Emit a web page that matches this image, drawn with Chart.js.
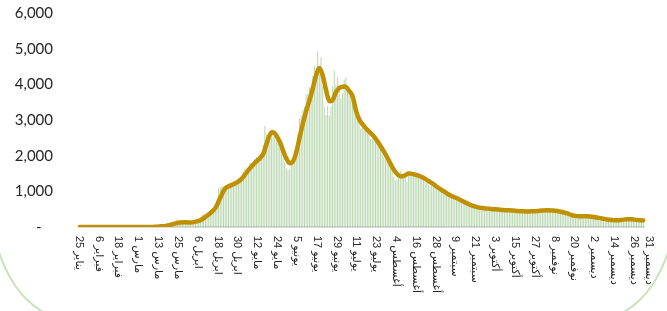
<!DOCTYPE html>
<html lang="ar">
<head>
<meta charset="utf-8">
<script src="https://cdn.jsdelivr.net/npm/chart.js@4.4.1/dist/chart.umd.min.js"></script>
<style>
  html, body { margin: 0; padding: 0; background: #ffffff; overflow: hidden; }
  #wrap { position: relative; width: 667px; height: 311px; overflow: hidden; background: #fff; }
  #frame { position: absolute; left: -10px; top: -100px; width: 687px; height: 420px;
           border: 2px solid #C9E2BA; border-radius: 80px / 120px; box-sizing: border-box; pointer-events: none; }
  canvas { position: absolute; left: 0; top: 0; }
</style>
</head>
<body>
<div id="wrap">
  <div id="frame"></div>
  <canvas id="c" width="667" height="311"></canvas>
</div>
<script>
// ---- data (daily new cases, 25 Jan 2020 .. 31 Dec 2020) ----
const startDate = [2020, 0, 25];

const casesJanFeb = new Array(36).fill(0);
const casesMar = [0,1,0,0,4,0,0,6,4,5,1,24,17,24,17,15,38,38,36,70,119,119,51,205,133,112,92,99,96,154,110];
const casesApr = [157,165,140,140,206,138,190,327,355,364,382,429,472,435,493,518,762,1088,1122,1147,1132,1141,1158,1172,1197,1223,1289,1266,1325,1351];
const casesMay = [1344,1362,1552,1645,1595,1687,1793,1701,1701,1912,1966,1911,1905,2039,2307,2840,2593,2509,2691,2509,2532,2642,2442,2399,2235,2235,1931,1815,1644,1581,1618];
const casesJun = [1881,1869,1975,2171,2591,3045,3121,3288,3369,3717,3733,3921,3941,4233,4507,4267,4919,4301,4757,3941,3379,3139,3393,3123,3372,3938,4387,3989,4193,3943];
const casesJul = [3600,3750,4130,4190,3900,3850,3700,3600,3400,3300,3100,2950,2750,2800,2800,2850,2700,2700,2450,2500,2600,2550,2450,2350,2200,2100,1950,1900,1850,1750,1700];
const casesAug = [1600,1400,1300,1340,1400,1560,1470,1430,1390,1260,1520,1570,1480,1450,1420,1430,1450,1400,1380,1330,1260,1230,1180,1110,1230,1280,1190,1120,1070,1110,1120];
const casesSep = [1050,1000,980,950,900,840,780,800,780,810,770,720,690,650,645,660,650,625,600,550,510,520,510,500,530,520,500,510,500,490];
const casesOct = [500,490,480,470,500,480,470,480,460,470,480,460,470,450,460,440,430,440,420,430,440,420,430,420,440,430,440,450,460,470,460];
const casesNov = [470,460,470,480,460,450,440,430,410,400,380,370,350,340,330,320,310,310,300,300,300,310,300,300,290,290,280,270,260,250];
const casesDec = [240,240,230,220,210,200,200,190,190,180,180,190,180,190,190,200,210,210,220,210,220,210,200,200,190,190,190,180,180,170,170];

// moving-average trend line at these day positions
const trendDay = [0,12,24,36,42,46,49,52,55,58,61,64,67,70,73,76,79,82,85,88,91,94,97,100,103,106,109,111,113,115,117,119,121,123,125,127,129,131,133,135,137,139,141,143,145,147,149,151,153,155,157,159,161,163,165,167,169,172,175,178,181,184,187,190,193,196,199,202,205,208,211,214,217,220,223,226,229,232,235,238,241,244,247,250,253,256,259,262,265,268,271,274,277,280,283,286,289,292,295,298,301,304,307,310,313,316,319,322,325,328,331,334,337,341];
const trendValue = [0,0,0,0,2,8,18,30,60,100,125,130,125,150,190,280,390,530,820,1080,1160,1220,1310,1470,1650,1800,1930,2050,2330,2580,2660,2560,2390,2150,1920,1790,1840,2100,2500,2900,3250,3550,3880,4250,4460,4250,3850,3540,3560,3780,3900,3930,3930,3820,3680,3300,3030,2830,2680,2540,2340,2120,1870,1610,1450,1430,1500,1480,1440,1380,1290,1200,1100,1010,920,850,790,720,650,590,550,530,515,500,490,475,470,465,450,440,435,440,450,465,470,465,450,420,380,330,305,300,300,290,265,240,210,195,190,200,215,215,200,185];

// x-axis tick labels and the day positions where they sit
const tickDay = [0,12,24,36,48,60,72,84,96,108,120,132,144,156,168,180,192,204,216,228,240,252,264,276,288,300,312,324,336,341];
const tickLabels = ['25 يناير','6 فبراير','18 فبراير','1 مارس','13 مارس','25 مارس','6 ابريل','18 ابريل','30 ابريل','12 مايو','24 مايو','5 يونيو','17 يونيو','29 يونيو','11 يوليو','23 يوليو','4 أغسطس','16 أغسطس','28 أغسطس','9 سبتمبر','21 سبتمبر','3 أكتوبر','15 أكتوبر','27 أكتوبر','8 نوفمبر','20 نوفمبر','2 ديسمبر','14 ديسمبر','26 ديسمبر','31 ديسمبر'];

const yTicks = [0,1000,2000,3000,4000,5000,6000];

// ---- build library structures ----
const dailyCases = [].concat(casesJanFeb, casesMar, casesApr, casesMay, casesJun, casesJul, casesAug, casesSep, casesOct, casesNov, casesDec);
const categories = dailyCases.map((_, i) => {
  const d = new Date(startDate[0], startDate[1], startDate[2] + i);
  return d.getFullYear() + '-' + (d.getMonth() + 1) + '-' + d.getDate();
});
const trendSeries = new Array(dailyCases.length).fill(null);
trendDay.forEach((d, k) => { trendSeries[d] = trendValue[k]; });

const xLabelPlugin = {
  id: 'rotatedXLabels',
  afterDraw(chart) {
    const { ctx, chartArea } = chart;
    const xs = chart.scales.x;
    ctx.save();
    ctx.font = '11px "Liberation Sans", "DejaVu Sans", sans-serif';
    ctx.fillStyle = '#262626';
    ctx.textAlign = 'left';
    ctx.textBaseline = 'middle';
    tickDay.forEach((d, k) => {
      let px = xs.getPixelForValue(d) - 1;
      if (k === tickDay.length - 1) px += 7;
      ctx.save();
      ctx.translate(px, chartArea.bottom + 9);
      ctx.rotate(Math.PI / 2);
      ctx.fillText(tickLabels[k], 0, 0);
      ctx.restore();
    });
    ctx.restore();
  }
};

new Chart(document.getElementById('c'), {
  type: 'bar',
  data: {
    labels: categories,
    datasets: [
      {
        type: 'line',
        data: trendSeries,
        borderColor: '#BF9000',
        borderWidth: 4.5,
        pointRadius: 0,
        tension: 0.4,
        spanGaps: true,
        borderCapStyle: 'round',
        borderJoinStyle: 'round',
        order: 0
      },
      {
        type: 'bar',
        data: dailyCases,
        backgroundColor: 'rgba(140, 190, 125, 0.6)',
        borderWidth: 0,
        barPercentage: 0.62,
        categoryPercentage: 1.0,
        order: 1
      }
    ]
  },
  options: {
    responsive: false,
    animation: false,
    devicePixelRatio: 1,
    layout: { padding: { top: 13, right: 23, left: 0, bottom: 0 } },
    plugins: { legend: { display: false }, tooltip: { enabled: false } },
    scales: {
      x: {
        offset: true,
        grid: { display: false, drawTicks: false },
        border: { display: true, color: '#D9D9D9', width: 2 },
        ticks: { display: false },
        afterFit(scale) { scale.height = 84; }
      },
      y: {
        min: 0,
        max: 6000,
        afterBuildTicks(scale) { scale.ticks = yTicks.map(v => ({ value: v })); },
        grid: { display: false, drawTicks: false },
        border: { display: false },
        ticks: {
          padding: 26,
          color: '#262626',
          font: { family: 'Lato, "Liberation Sans", sans-serif', size: 15 },
          callback: (v) => v === 0 ? '-   ' : v.toLocaleString('en-US')
        },
        afterFit(scale) { scale.width = 79; scale.paddingTop = 0; scale.paddingBottom = 0; }
      }
    }
  },
  plugins: [xLabelPlugin]
});
</script>
</body>
</html>
